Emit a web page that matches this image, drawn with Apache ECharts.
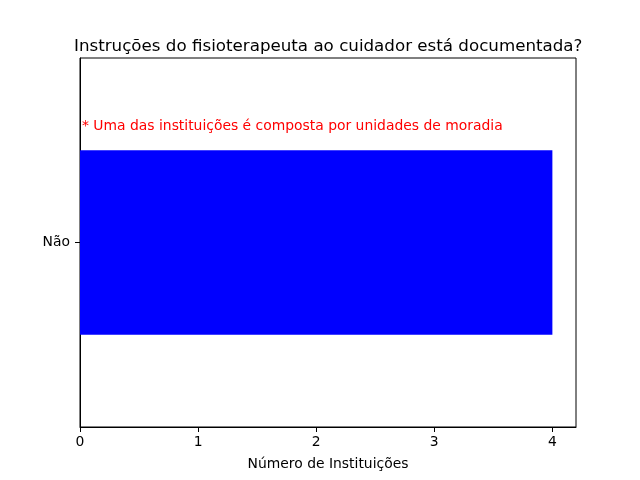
<!DOCTYPE html>
<html><head><meta charset="utf-8">
<script src="https://cdn.jsdelivr.net/npm/echarts@6/dist/echarts.min.js"></script>
<style>html,body{margin:0;padding:0;background:#fff}#c{width:640px;height:480px}</style>
</head><body><div id="c"></div>
<script>
const categories = ['Não'];
const values = [4];
const xTicks = [0, 1, 2, 3, 4];
const titleText = 'Instruções do fisioterapeuta ao cuidador está documentada?';
const xLabel = 'Número de Instituições';
const noteText = '* Uma das instituições é composta por unidades de moradia';

const chart = echarts.init(document.getElementById('c'), null, {renderer: 'canvas'});
const font = 'DejaVu Sans';
chart.setOption({
  animation: false,
  backgroundColor: '#fff',
  title: {
    text: titleText, left: 69, top: 33,
    textStyle: {fontFamily: font, fontSize: 16.7, fontWeight: 'normal', color: '#000'}
  },
  grid: {left: 80, right: 64, top: 58, bottom: 53, show: true, borderColor: '#000', borderWidth: 1, backgroundColor: 'transparent'},
  xAxis: {
    type: 'value', min: 0, max: 4.2, interval: 1,
    name: xLabel, nameLocation: 'middle', nameGap: 30,
    nameTextStyle: {fontFamily: font, fontSize: 13.9, color: '#000'},
    axisLine: {show: true, lineStyle: {color: '#000', width: 1}},
    axisTick: {show: true, inside: false, length: 5, customValues: xTicks, lineStyle: {color: '#000'}},
    axisLabel: {fontFamily: font, fontSize: 13.9, color: '#000', margin: 8, customValues: xTicks},
    splitLine: {show: false}
  },
  yAxis: {
    type: 'category', data: categories,
    axisLine: {show: true, lineStyle: {color: '#000', width: 1}},
    axisTick: {show: true, alignWithLabel: true, length: 5, lineStyle: {color: '#000'}},
    axisLabel: {fontFamily: font, fontSize: 13.9, color: '#000', margin: 10},
    splitLine: {show: false}
  },
  series: [{
    type: 'bar', data: values, barCategoryGap: '50%',
    itemStyle: {color: '#0000ff'}
  }],
  graphic: [{
    type: 'text', left: 82, top: 119,
    style: {text: noteText, fill: '#ff0000', font: '13.9px "DejaVu Sans"'}
  }]
});
</script></body></html>
